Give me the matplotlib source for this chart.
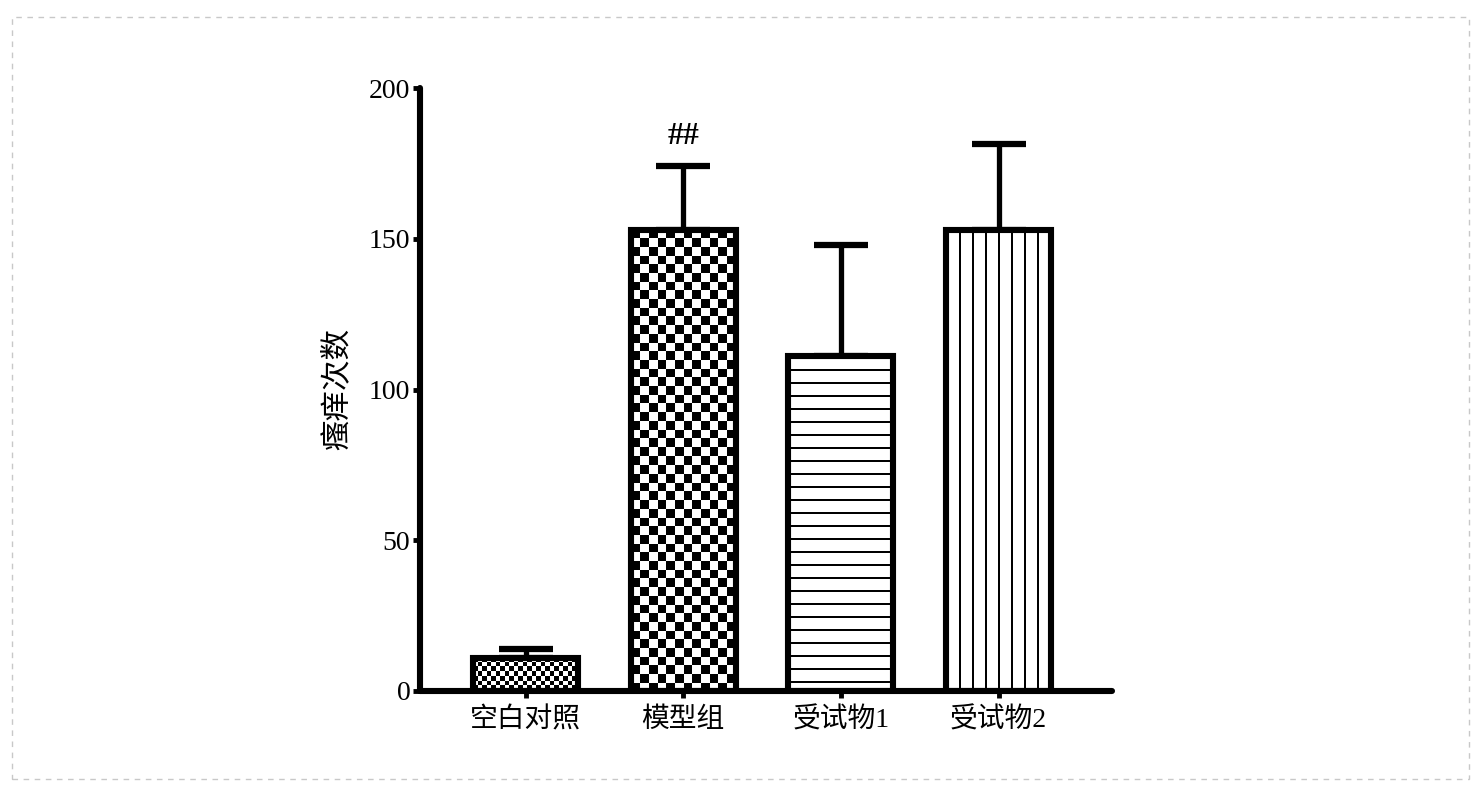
import numpy as np
import matplotlib
matplotlib.use("Agg")
import matplotlib.pyplot as plt
from matplotlib.patches import Rectangle

plt.rcParams['font.family'] = ['Liberation Serif', 'Noto Sans CJK SC']

# data
groups = ['空白对照', '模型组', '受试物1', '受试物2']
means = [11, 153, 111, 153]
sems = [3, 21, 37, 28.5]
yticks = [0, 50, 100, 150, 200]
ylabel = '瘙痒次数'
mark_text = '##'

W, H, DPI = 1482, 798, 100
fig = plt.figure(figsize=(W / DPI, H / DPI), dpi=DPI)
ax = fig.add_axes([420 / W, (H - 691) / H, (1112 - 420) / W, (691 - 88) / H])

x = np.arange(len(groups))
lw = 4.4

ax.errorbar(x, means, yerr=[np.zeros(len(sems)), sems], fmt='none', ecolor='black',
            elinewidth=3.8, capsize=19.5, capthick=4.5, zorder=1)
bars = ax.bar(x, means, width=0.665, facecolor='none', edgecolor='black',
              linewidth=lw, zorder=3)

ax.set_xlim(-0.67, 3.72)
ax.set_ylim(0, 200)

# pattern fills (pixel-sized so they stay crisp)
def pattern(kind, w, h):
    yy, xx = np.mgrid[0:h, 0:w]
    if kind == 'fine':
        c = 4.5
        return ((np.floor(xx / c) + np.floor(yy / c)) % 2)
    if kind == 'check':
        c = 8.7
        return ((np.floor(xx / c) + np.floor(yy / c)) % 2)
    if kind == 'hline':
        return (yy % 13 >= 2).astype(float)
    if kind == 'vline':
        return (xx % 13 >= 2).astype(float)

kinds = ['fine', 'check', 'hline', 'vline']
for b, k in zip(bars, kinds):
    ext = b.get_window_extent(fig.canvas.get_renderer())
    w = max(int(round(ext.width)), 1)
    h = max(int(round(ext.height)), 1)
    img = pattern(k, w, h)
    x0 = b.get_x()
    im = ax.imshow(img, extent=(x0, x0 + b.get_width(), 0, b.get_height()),
                   cmap='gray', vmin=0, vmax=1, interpolation='nearest',
                   aspect='auto', origin='upper', zorder=2)
    im.set_clip_path(b)

ax.set_xlim(-0.67, 3.72)
ax.set_ylim(0, 200)

ax.text(x[1], means[1] + sems[1] + 10, mark_text, ha='center', va='center',
        fontsize=23, fontweight='bold')

for s in ['top', 'right']:
    ax.spines[s].set_visible(False)
for s in ['left', 'bottom']:
    ax.spines[s].set_linewidth(lw)
    ax.spines[s].set_capstyle('round')
    ax.spines[s].set_zorder(5)

ax.set_yticks(yticks)
ax.set_yticklabels([str(v) for v in yticks])
ax.set_xticks(x)
ax.set_xticklabels(groups)
ax.tick_params(axis='both', direction='out', length=5, width=3.5, labelsize=20,
               pad=2)
ax.tick_params(axis='x', pad=7)
ax.set_ylabel(ylabel, fontsize=22)
ax.yaxis.set_label_coords(-0.097, 0.5)

fig.patches.append(Rectangle((12 / W, (H - 779) / H), (1469 - 12) / W, (779 - 17) / H,
                             transform=fig.transFigure, fill=False,
                             edgecolor='#c8c8c8', linewidth=1, linestyle=(0, (4, 4))))

fig.savefig('out.png', dpi=DPI)
